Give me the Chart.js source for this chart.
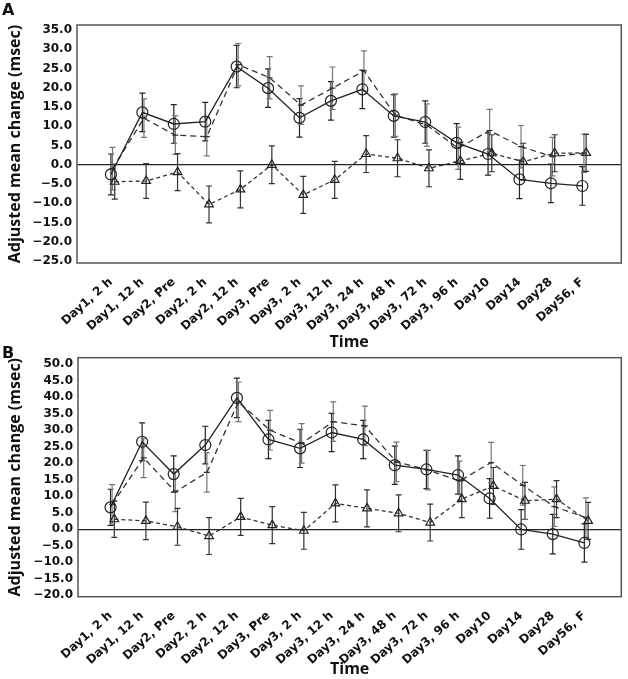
<!DOCTYPE html>
<html>
<head>
<meta charset="utf-8">
<script src="https://cdn.jsdelivr.net/npm/chart.js@4.4.1/dist/chart.umd.min.js"></script>
<style>
    html, body { margin: 0; padding: 0; background: #fff; }
    .panel { position: absolute; left: 0; width: 628px; }
    #wrapA { top: 0; height: 360px; }
    #wrapB { top: 345px; height: 334px; }
</style>
</head>
<body>
<div id="wrapA" class="panel"><canvas id="chartA"></canvas></div>
<div id="wrapB" class="panel"><canvas id="chartB"></canvas></div>
<script>
// Time points on the x axis
const timepoints = ['Day1, 2 h', 'Day1, 12 h', 'Day2, Pre', 'Day2, 2 h', 'Day2, 12 h', 'Day3, Pre',
    'Day3, 2 h', 'Day3, 12 h', 'Day3, 24 h', 'Day3, 48 h', 'Day3, 72 h', 'Day3, 96 h',
    'Day10', 'Day14', 'Day28', 'Day56, F'];

// Panel A
const circleA = [-2.5, 13.6, 10.6, 11.2, 25.5, 19.9, 12.2, 16.6, 19.6, 12.7, 11.1, 5.7, 2.8, -3.8, -4.8, -5.5];
const circleErrA = [5.3, 5.0, 5.0, 5.0, 5.5, 5.0, 5.0, 5.0, 5.0, 5.5, 5.5, 5.0, 5.5, 5.0, 5.0, 5.0];
const dashA = [-1.0, 12.1, 7.7, 7.3, 26.0, 22.6, 15.5, 19.9, 24.4, 12.9, 10.3, 4.3, 8.9, 4.7, 2.1, 3.0];
const dashErrA = [5.5, 5.0, 5.0, 5.0, 5.5, 5.5, 5.0, 5.5, 5.2, 5.5, 5.5, 5.5, 5.5, 5.5, 5.0, 5.0];
const triangleA = [-4.4, -4.2, -1.9, -10.3, -6.4, 0.0, -7.8, -3.9, 2.8, 1.7, -0.9, 1.0, 3.0, 0.8, 3.0, 3.1];
const triangleErrA = [4.5, 4.5, 4.8, 4.8, 4.8, 4.9, 4.8, 4.8, 4.8, 4.8, 4.8, 4.8, 4.8, 4.8, 4.8, 4.8];
const yTicksA = [-25, -20, -15, -10, -5, 0, 5, 10, 15, 20, 25, 30, 35];

// Panel B
const circleB = [6.6, 26.5, 16.7, 25.5, 39.8, 27.2, 24.5, 29.3, 27.2, 19.4, 18.1, 16.4, 9.3, -0.1, -1.5, -4.2];
const circleErrB = [5.5, 5.7, 5.5, 5.7, 6.0, 5.8, 5.8, 5.8, 5.8, 5.8, 5.8, 5.8, 6.0, 6.0, 6.0, 5.8];
const dashB = [7.5, 21.6, 11.3, 17.2, 38.6, 30.0, 26.0, 32.6, 31.3, 20.4, 17.9, 14.6, 20.2, 13.3, 6.8, 3.5];
const dashErrB = [6.0, 6.0, 6.0, 6.0, 6.0, 6.0, 6.0, 6.0, 6.0, 6.0, 6.0, 6.0, 6.1, 6.0, 6.0, 6.0];
const triangleB = [3.0, 2.5, 0.7, -2.1, 3.7, 1.2, -0.5, 7.8, 6.3, 4.8, 2.0, 9.1, 13.1, 8.6, 9.1, 2.5];
const triangleErrB = [5.5, 5.7, 5.6, 5.6, 5.6, 5.6, 5.6, 5.6, 5.6, 5.6, 5.6, 5.6, 5.6, 5.6, 5.6, 5.6];
const yTicksB = [-20, -15, -10, -5, 0, 5, 10, 15, 20, 25, 30, 35, 40, 45, 50];

// small horizontal shift so overlapping series stay readable
const DASH_SHIFT = 0.05;
const TRI_SHIFT = 0.12;

Chart.defaults.font.family = "'DejaVu Sans', sans-serif";
Chart.defaults.font.weight = 'bold';
Chart.defaults.color = '#111';

// Vertical error bars with caps
const errorBars = {
    id: 'errorBars',
    beforeDatasetsDraw(chart) {
        const { ctx, scales: { x, y } } = chart;
        chart.data.datasets.forEach(ds => {
            if (!ds.errors) return;
            ctx.save();
            ctx.strokeStyle = ds.errorColor;
            ctx.lineWidth = 1.2;
            ds.data.forEach((p, j) => {
                const px = x.getPixelForValue(p.x);
                const top = y.getPixelForValue(p.y + ds.errors[j]);
                const bot = y.getPixelForValue(p.y - ds.errors[j]);
                ctx.beginPath();
                ctx.moveTo(px, top); ctx.lineTo(px, bot);
                ctx.moveTo(px - 3, top); ctx.lineTo(px + 3, top);
                ctx.moveTo(px - 3, bot); ctx.lineTo(px + 3, bot);
                ctx.stroke();
            });
            ctx.restore();
        });
    }
};

// Frame around plot area + panel letter
const frame = {
    id: 'frame',
    afterDraw(chart, args, opts) {
        const { ctx, chartArea: a } = chart;
        ctx.save();
        ctx.strokeStyle = '#555';
        ctx.lineWidth = 1.5;
        ctx.strokeRect(a.left, a.top, a.right - a.left, a.bottom - a.top);
        ctx.fillStyle = '#111';
        ctx.font = "bold 16px 'DejaVu Sans'";
        ctx.textBaseline = 'top';
        ctx.fillText(opts.text, opts.x, opts.y);
        ctx.restore();
    }
};

function points(values, shift) {
    return values.map((v, i) => ({ x: i + shift, y: v }));
}

function makeChart(id, cfg) {
    const datasets = [
        {
            data: points(cfg.circle, 0), errors: cfg.circleErr, errorColor: '#222',
            borderColor: '#222', borderWidth: 1.3, pointStyle: 'circle', pointRadius: 5.5,
            pointBorderColor: '#222', pointBackgroundColor: 'rgba(255,255,255,0)', pointBorderWidth: 1.2
        },
        {
            data: points(cfg.dash, DASH_SHIFT), errors: cfg.dashErr, errorColor: '#777',
            borderColor: '#333', borderWidth: 1.3, borderDash: [6, 4], pointStyle: 'line', pointRadius: 3,
            pointBorderColor: '#333', pointBorderWidth: 1.2
        },
        {
            data: points(cfg.triangle, TRI_SHIFT), errors: cfg.triangleErr, errorColor: '#333',
            borderColor: '#333', borderWidth: 1.3, borderDash: [4, 3], pointStyle: 'triangle', pointRadius: 5,
            pointBorderColor: '#222', pointBackgroundColor: 'rgba(255,255,255,0)', pointBorderWidth: 1.2
        }
    ];

    return new Chart(document.getElementById(id), {
        type: 'line',
        data: { datasets },
        plugins: [errorBars, frame],
        options: {
            responsive: true,
            maintainAspectRatio: false,
            animation: false,
            layout: { padding: cfg.padding },
            plugins: {
                legend: { display: false },
                tooltip: { enabled: false },
                frame: cfg.tag
            },
            scales: {
                x: {
                    type: 'linear',
                    min: cfg.xMin, max: cfg.xMax,
                    afterBuildTicks: s => { s.ticks = timepoints.map((_, i) => ({ value: i })); },
                    afterFit: s => { s.height = cfg.xHeight; },
                    grid: { display: false },
                    border: { display: false },
                    ticks: {
                        autoSkip: false, minRotation: 42, maxRotation: 42, padding: 4,
                        font: { size: 12, weight: 'bold' },
                        callback: v => timepoints[v]
                    },
                    title: {
                        display: true, text: 'Time',
                        font: { family: "'Open Sans'", size: 16, weight: 'bold' },
                        padding: { top: 0, bottom: cfg.titlePad }
                    }
                },
                y: {
                    min: cfg.yMin, max: cfg.yMax,
                    afterBuildTicks: s => { s.ticks = cfg.yTicks.map(v => ({ value: v })); },
                    afterFit: s => { s.width = cfg.yWidth; },
                    border: { display: false },
                    grid: {
                        drawTicks: false,
                        lineWidth: 1.2,
                        color: c => (c.tick && c.tick.value === 0 ? '#222' : 'rgba(0,0,0,0)')
                    },
                    ticks: {
                        autoSkip: false,
                        padding: 5,
                        font: { size: 12, weight: 'bold' },
                        callback: v => v.toFixed(1).replace('-', '\u2212')
                    },
                    title: {
                        display: true, text: 'Adjusted mean change (msec)',
                        font: { family: "'Open Sans'", size: 16, weight: 'bold' },
                        padding: { top: 6, bottom: 0 }
                    }
                }
            }
        }
    });
}

makeChart('chartA', {
    circle: circleA, circleErr: circleErrA, dash: dashA, dashErr: dashErrA,
    triangle: triangleA, triangleErr: triangleErrA, yTicks: yTicksA,
    yMin: -25.5, yMax: 36.3, xMin: -1.08, xMax: 16.24,
    padding: { top: 25, right: 6, left: 0, bottom: 0 },
    yWidth: 77, xHeight: 97, titlePad: 8,
    tag: { text: 'A', x: 2, y: 3 }
});

makeChart('chartB', {
    circle: circleB, circleErr: circleErrB, dash: dashB, dashErr: dashErrB,
    triangle: triangleB, triangleErr: triangleErrB, yTicks: yTicksB,
    yMin: -20.5, yMax: 52, xMin: -1.03, xMax: 16.17,
    padding: { top: 12.7, right: 2, left: 0, bottom: 0 },
    yWidth: 78, xHeight: 82.3, titlePad: 0,
    tag: { text: 'B', x: 2, y: 1 }
});
</script>
</body>
</html>
